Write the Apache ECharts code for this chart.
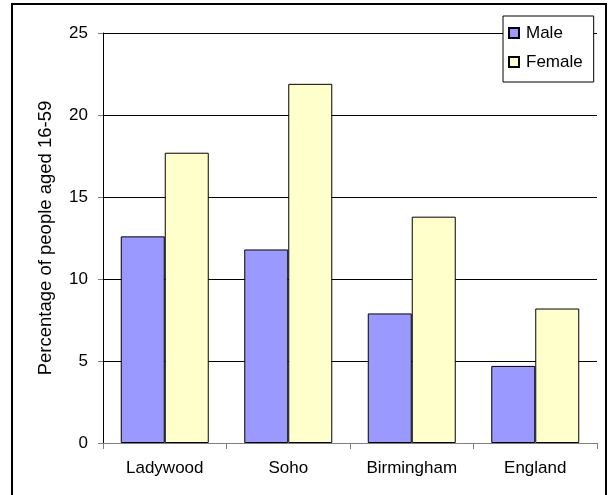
<!DOCTYPE html>
<html>
<head>
<meta charset="utf-8">
<script src="https://cdn.jsdelivr.net/npm/echarts@6/dist/echarts.min.js"></script>
<style>
  html, body { margin: 0; padding: 0; background: #fff; }
  #chart { width: 610px; height: 495px; }
</style>
</head>
<body>
<div id="chart"></div>
<script>
// Areas compared
const categories = ['Ladywood', 'Soho', 'Birmingham', 'England'];
// Percentage of people aged 16-59, by sex
const maleValues = [12.6, 11.8, 7.9, 4.7];
const femaleValues = [17.7, 21.9, 13.8, 8.2];
// Value axis ticks
const yTicks = [0, 5, 10, 15, 20, 25];

const FONT = 'Liberation Sans, Arial, sans-serif';
const chart = echarts.init(document.getElementById('chart'), null, { renderer: 'canvas' });

chart.setOption({
  animation: false,
  backgroundColor: '#ffffff',
  graphic: [{
    type: 'rect',
    shape: { x: 12, y: 4, width: 594, height: 510 },
    style: { fill: 'none', stroke: '#000', lineWidth: 2 },
    z: 100
  }],
  grid: { left: 103, right: 13, top: 33, bottom: 52 },
  legend: {
    orient: 'vertical',
    left: 503,
    top: 16,
    itemWidth: 10,
    itemHeight: 10,
    itemGap: 9,
    padding: [7, 11, 10, 5],
    icon: 'rect',
    borderColor: '#000',
    borderWidth: 1,
    backgroundColor: '#fff',
    textStyle: { fontFamily: FONT, fontSize: 17, lineHeight: 20, color: '#000', padding: [0, 0, 0, 2] },
    data: ['Male', 'Female']
  },
  xAxis: {
    type: 'category',
    data: categories,
    axisLine: { lineStyle: { color: '#808080', width: 1 } },
    axisTick: { show: true, length: 6, lineStyle: { color: '#808080' } },
    axisLabel: { fontFamily: FONT, fontSize: 17, color: '#000', margin: 17 },
    splitLine: { show: false }
  },
  yAxis: {
    type: 'value',
    min: yTicks[0],
    max: yTicks[yTicks.length - 1],
    interval: 5,
    name: 'Percentage of people aged 16-59',
    nameLocation: 'middle',
    nameRotate: 90,
    nameGap: 48,
    nameTextStyle: { fontFamily: FONT, fontSize: 18.5, color: '#000' },
    axisLine: { show: true, lineStyle: { color: '#000', width: 1 } },
    axisTick: { show: true, length: 5, inside: false, lineStyle: { color: '#808080' } },
    axisLabel: { fontFamily: FONT, fontSize: 17, color: '#000', margin: 15 },
    splitLine: { show: true, lineStyle: { color: '#000', width: 1 } }
  },
  series: [
    {
      name: 'Male',
      type: 'bar',
      data: maleValues,
      barWidth: 44,
      barGap: '0%',
      itemStyle: { color: '#9999FF', borderColor: '#000', borderWidth: 1 }
    },
    {
      name: 'Female',
      type: 'bar',
      data: femaleValues,
      barWidth: 44,
      barGap: '0%',
      itemStyle: { color: '#FFFFCC', borderColor: '#000', borderWidth: 1 }
    }
  ]
});
</script>
</body>
</html>
